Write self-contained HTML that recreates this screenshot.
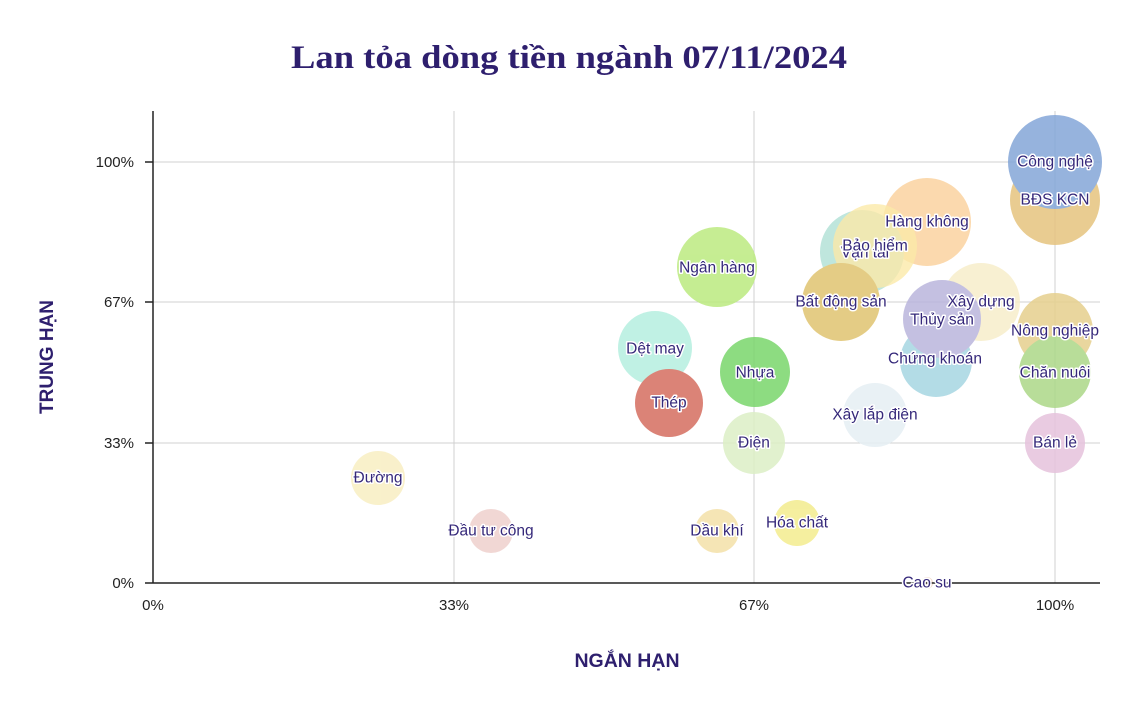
<!DOCTYPE html>
<html><head><meta charset="utf-8"><style>
body{margin:0;background:#fff;}
svg text{font-family:"Liberation Sans","DejaVu Sans",sans-serif;}
.lb{font-size:15.5px;fill:#35287a;stroke:#fff;stroke-width:3px;paint-order:stroke;stroke-linejoin:round;text-anchor:middle;dominant-baseline:central;}
.tk{font-size:15px;fill:#222;}
</style></head><body>
<svg width="1133" height="704" viewBox="0 0 1133 704" xmlns="http://www.w3.org/2000/svg">
<text x="569" y="68" text-anchor="middle" textLength="556" lengthAdjust="spacingAndGlyphs" style="font-family:'Liberation Serif',serif;font-weight:bold;font-size:33px;fill:#2e1f6e">Lan tỏa dòng tiền ngành 07/11/2024</text>
<g stroke="#d0d0d0" stroke-width="1">
<line x1="454" y1="111" x2="454" y2="583"/><line x1="754" y1="111" x2="754" y2="583"/><line x1="1055" y1="111" x2="1055" y2="583"/>
<line x1="153" y1="162" x2="1100" y2="162"/><line x1="153" y1="302" x2="1100" y2="302"/><line x1="153" y1="443" x2="1100" y2="443"/>
</g>
<g opacity="0.85">
<circle cx="1055" cy="200" r="45" fill="#e6c47e"/>
<circle cx="1055" cy="162" r="47" fill="#84a6d8"/>
<circle cx="927" cy="222" r="44" fill="#fbd3a0"/>
<circle cx="862" cy="252" r="42" fill="#b4e2d8"/>
<circle cx="875" cy="246" r="42" fill="#fbe69a" opacity="0.8"/>
<circle cx="841" cy="302" r="39" fill="#e0c470"/>
<circle cx="981" cy="302" r="39" fill="#f7eecb"/>
<circle cx="936" cy="361" r="36" fill="#a6d6e2"/>
<circle cx="942" cy="319" r="39" fill="#bab6dc"/>
<circle cx="1055" cy="331" r="38" fill="#e6d08e"/>
<circle cx="1055" cy="372" r="36" fill="#acd888"/>
<circle cx="717" cy="267" r="40" fill="#bcea80"/>
<circle cx="655" cy="348" r="37" fill="#b6efe0"/>
<circle cx="755" cy="372" r="35" fill="#7ad66c"/>
<circle cx="669" cy="403" r="34" fill="#d56e60"/>
<circle cx="754" cy="443" r="31" fill="#dcefc6"/>
<circle cx="875" cy="415" r="32" fill="#e6eff4"/>
<circle cx="1055" cy="443" r="30" fill="#e6c2dc"/>
<circle cx="378" cy="478" r="27" fill="#f8eec2"/>
<circle cx="491" cy="531" r="22" fill="#efd0cc"/>
<circle cx="717" cy="531" r="22" fill="#f3e1a8"/>
<circle cx="797" cy="523" r="23" fill="#f3ec8e"/>
<circle cx="927" cy="583" r="6" fill="#efd4c2"/>
</g>
<g stroke="#222" stroke-width="1.5">
<line x1="153" y1="111" x2="153" y2="583"/><line x1="145" y1="583" x2="1100" y2="583"/>
<line x1="145" y1="162" x2="153" y2="162"/><line x1="145" y1="302" x2="153" y2="302"/><line x1="145" y1="443" x2="153" y2="443"/>
</g>
<g class="tk" text-anchor="end">
<text x="134" y="167">100%</text><text x="134" y="307">67%</text><text x="134" y="448">33%</text><text x="134" y="588">0%</text>
</g>
<g class="tk" text-anchor="middle">
<text x="153" y="610">0%</text><text x="454" y="610">33%</text><text x="754" y="610">67%</text><text x="1055" y="610">100%</text>
</g>
<text x="627" y="667" text-anchor="middle" style="font-weight:bold;font-size:19.5px;fill:#2e1f6e">NGẮN HẠN</text>
<text transform="translate(53,357) rotate(-90)" text-anchor="middle" style="font-weight:bold;font-size:19px;fill:#2e1f6e">TRUNG HẠN</text>
<g class="lb">
<text x="1055" y="162">Công nghệ</text>
<text x="1055" y="200">BĐS KCN</text>
<text x="927" y="222">Hàng không</text>
<text x="865" y="253">Vận tải</text>
<text x="875" y="246">Bảo hiểm</text>
<text x="841" y="302">Bất động sản</text>
<text x="981" y="302">Xây dựng</text>
<text x="942" y="320">Thủy sản</text>
<text x="935" y="359">Chứng khoán</text>
<text x="1055" y="331">Nông nghiệp</text>
<text x="1055" y="373">Chăn nuôi</text>
<text x="717" y="268">Ngân hàng</text>
<text x="655" y="349">Dệt may</text>
<text x="755" y="373">Nhựa</text>
<text x="669" y="403">Thép</text>
<text x="754" y="443">Điện</text>
<text x="875" y="415">Xây lắp điện</text>
<text x="1055" y="443">Bán lẻ</text>
<text x="378" y="478">Đường</text>
<text x="491" y="531">Đầu tư công</text>
<text x="717" y="531">Dầu khí</text>
<text x="797" y="523">Hóa chất</text>
<text x="927" y="583">Cao su</text>
</g>
</svg>
</body></html>
